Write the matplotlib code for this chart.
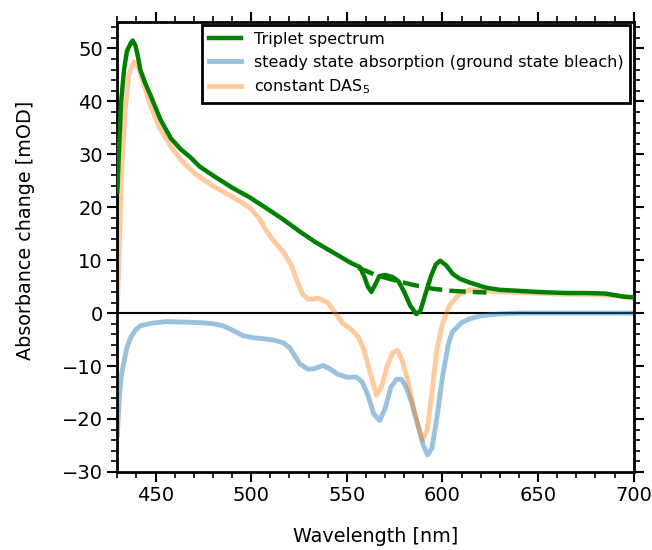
import numpy as np
import matplotlib
matplotlib.use("Agg")
import matplotlib.pyplot as plt
from matplotlib.ticker import MultipleLocator

# Triplet spectrum (green, solid)
wl_trip = [430, 431, 432, 433.5, 435, 437, 438, 439.5, 441, 442, 444.5, 447.5, 452.5, 458, 463,
           468, 473, 480, 490, 499.5, 508, 516.7, 525, 534, 545, 552, 556.8, 559, 561, 562.8,
           565, 567, 570, 574, 577, 580, 583, 586.3, 588.5, 591, 594, 596.5, 598.8, 602, 605.4,
           609, 614, 622.8, 630, 640, 650, 657, 665, 675, 685, 690, 695, 700]
a_trip = [23, 32, 40, 46, 49.5, 51, 51.5, 50.5, 48, 46, 43.5, 41, 36.6, 33, 31,
          29.5, 27.7, 26, 23.7, 21.8, 19.8, 17.7, 15.5, 13.3, 11, 9.5, 8.7, 7, 5, 4,
          5.5, 7, 7.2, 6.8, 6, 4, 1.5, -0.2, 0.5, 3.5, 7, 9.2, 9.9, 9, 7.4,
          6.5, 5.8, 4.8, 4.4, 4.2, 4.0, 3.9, 3.8, 3.8, 3.7, 3.4, 3.1, 3.0]

# Triplet spectrum, corrected part (green, dashed)
wl_corr = [556, 565, 575, 585, 595, 605, 615, 623]
a_corr = [8.6, 7.2, 6.2, 5.3, 4.6, 4.2, 4.0, 3.9]

# steady state absorption (ground state bleach)
wl_gsb = [430, 431, 432, 433.4, 435, 437, 439.5, 442, 448, 456, 465, 473.4, 480, 485.4, 490,
          496, 502, 508, 513, 516.7, 520, 523, 525.5, 529.7, 533, 537.5, 541, 545, 549.8,
          555, 558, 561, 564, 567.2, 570, 573, 576, 578.5, 581, 584, 587, 590, 592.2, 594.5,
          597, 600, 603, 605, 610, 614, 620, 628, 640, 700]
a_gsb = [-23, -16, -12, -9.3, -6.5, -4.6, -3.2, -2.4, -1.9, -1.6, -1.7, -1.8, -2.0, -2.4, -3.2,
         -4.3, -4.7, -4.9, -5.2, -5.6, -6.5, -8.2, -9.6, -10.6, -10.5, -9.9, -10.5, -11.5, -12.1,
         -12.1, -13, -15.5, -19, -20.3, -18, -14, -12.5, -12.5, -14, -17, -21, -25, -26.8, -25.5,
         -20, -12, -6, -3.6, -1.8, -1.1, -0.5, -0.2, 0, 0]

# constant DAS5
wl_das = [430, 431, 432, 434, 436, 438.5, 441, 444, 447, 452, 458, 463, 470, 480, 490, 499,
          504, 508, 512, 517, 521, 524, 527, 530, 535, 540, 544, 548, 552, 556, 559, 562,
          565.5, 568, 571, 574, 576.5, 579, 582, 585.5, 589.5, 592, 594.5, 597, 600, 603.6,
          608, 614, 620, 630, 640, 660, 680, 690, 700]
a_das = [1, 12, 25, 38, 45, 47.5, 46.5, 43, 39.5, 35, 31.5, 29, 26.5, 24, 22, 20,
         18, 15.5, 13.5, 11.5, 9, 6, 3.5, 2.6, 2.8, 2, 0, -2, -3, -4.5, -7, -11,
         -15.5, -14, -10, -7.5, -7, -9, -13, -19, -24, -22, -15, -7, -2, 1.4,
         3.3, 4.4, 4.3, 4.0, 3.9, 3.6, 3.5, 3.3, 2.8]

fig = plt.figure(figsize=(6.52, 5.5), dpi=100)
ax = fig.add_axes([0.18, 0.142, 0.792, 0.818])

ax.axhline(0, color='k', lw=1.5, zorder=1)
ax.plot(wl_trip, a_trip, color='green', lw=3.2, label='Triplet spectrum', zorder=3)
ax.plot(wl_corr, a_corr, color='green', lw=3.2, ls='--', zorder=3)
ax.plot(wl_gsb, a_gsb, color='C0', alpha=0.45, lw=3.5,
        label='steady state absorption (ground state bleach)', zorder=2)
ax.plot(wl_das, a_das, color='C1', alpha=0.4, lw=3.5, label='constant DAS$_5$', zorder=2)

ax.set_xlim(430, 700)
ax.set_ylim(-30, 55)
ax.xaxis.set_major_locator(MultipleLocator(50))
ax.xaxis.set_minor_locator(MultipleLocator(10))
ax.yaxis.set_major_locator(MultipleLocator(10))
ax.yaxis.set_minor_locator(MultipleLocator(2))
ax.tick_params(which='both', direction='out', top=True, right=True, labelsize=14)
ax.tick_params(which='major', length=7, width=1.5)
ax.tick_params(which='minor', length=4, width=1.2)
for s in ax.spines.values():
    s.set_linewidth(2)

ax.set_xlabel('Wavelength [nm]', fontsize=13.8)
ax.set_ylabel('Absorbance change [mOD]', fontsize=13.8)
ax.xaxis.set_label_coords(0.5, -0.122)
ax.yaxis.set_label_coords(-0.16, 0.536)

leg = ax.legend(loc='upper right', bbox_to_anchor=(0.992, 0.993), borderaxespad=0,
                fontsize=11.5, fancybox=False, framealpha=1, edgecolor='k')
leg.get_frame().set_linewidth(2)

fig.savefig('out.png', dpi=100)
